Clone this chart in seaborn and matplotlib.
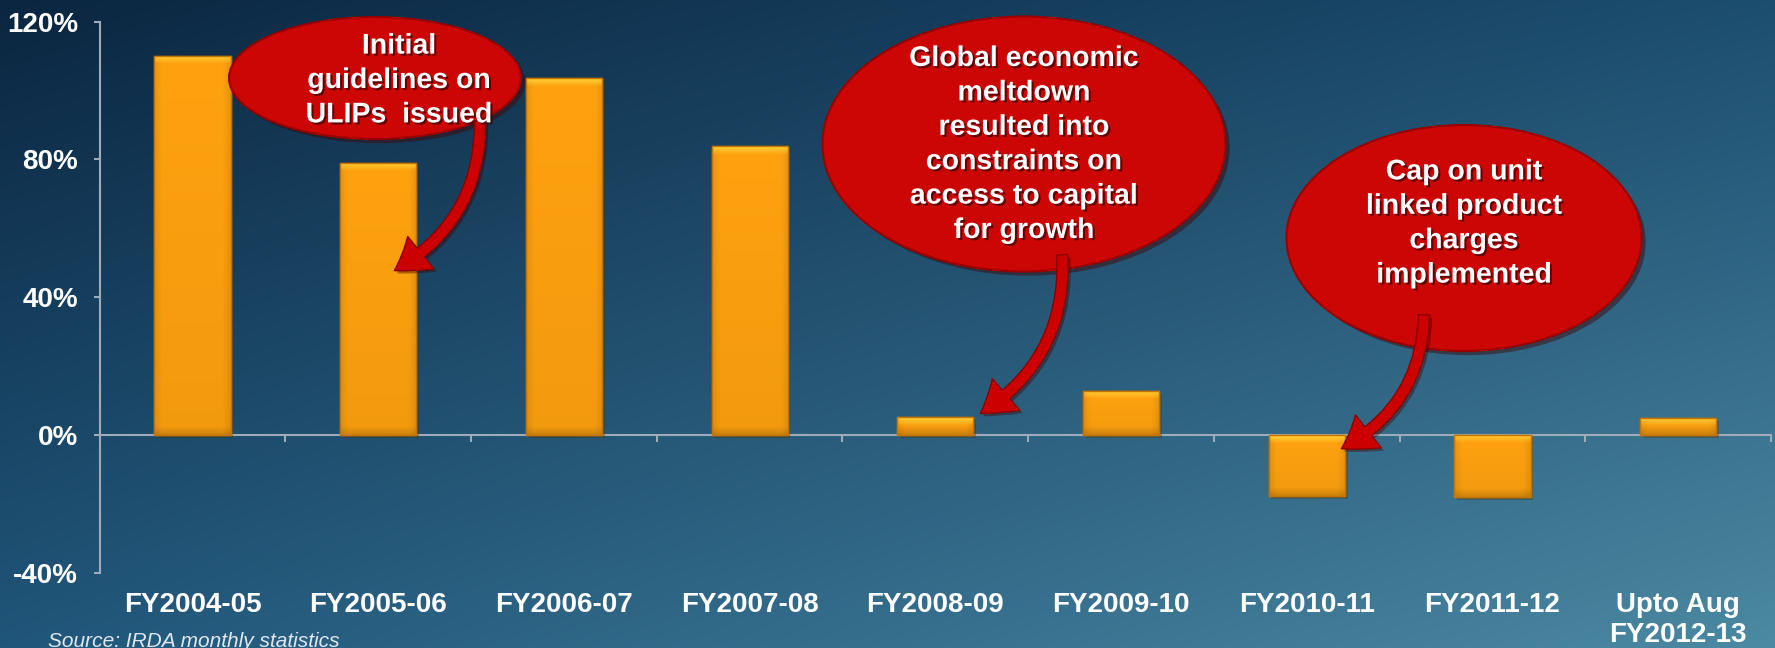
import numpy as np
import pandas as pd
import matplotlib
matplotlib.use("Agg")
import matplotlib.pyplot as plt
import seaborn as sns
from matplotlib.patches import Ellipse, FancyArrowPatch
import matplotlib.patheffects as pe

# ---------------- data ----------------
categories = ["FY2004-05", "FY2005-06", "FY2006-07", "FY2007-08", "FY2008-09",
              "FY2009-10", "FY2010-11", "FY2011-12", "Upto Aug\nFY2012-13"]
growth = [110.0, 79.0, 103.5, 83.8, 5.2, 12.8, -17.6, -18.0, 5.0]
y_ticks = [-40, 0, 40, 80, 120]
y_tick_labels = ["-40%", "0%", "40%", "80%", "120%"]
callout_texts = [
    "Initial\nguidelines on\nULIPs  issued",
    "Global economic\nmeltdown\nresulted into\nconstraints on\naccess to capital\nfor growth",
    "Cap on unit\nlinked product\ncharges\nimplemented",
]
source_text = "Source: IRDA monthly statistics"

# ---------------- style ----------------
sns.set_theme(style="white")
plt.rcParams["font.family"] = ["Liberation Sans", "DejaVu Sans"]

W, H = 1775, 648
fig = plt.figure(figsize=(W / 100, H / 100), dpi=100)

# background gradient
bg = fig.add_axes([0, 0, 1, 1], zorder=0)
tl = np.array([11, 38, 64]) / 255
tr = np.array([28, 78, 112]) / 255
bl = np.array([32, 86, 122]) / 255
br = np.array([76, 137, 162]) / 255
gy, gx = np.mgrid[0:1:200j, 0:1:400j]
img = ((1 - gx)[..., None] * (1 - gy)[..., None] * tl + gx[..., None] * (1 - gy)[..., None] * tr
       + (1 - gx)[..., None] * gy[..., None] * bl + gx[..., None] * gy[..., None] * br)
bg.imshow(img, extent=[0, 1, 1, 0], aspect="auto", interpolation="bilinear")
bg.set_xlim(0, 1); bg.set_ylim(1, 0)
bg.axis("off")

# main axes
ax = fig.add_axes([99.6 / W, 1 - 573 / H, (1771 - 99.6) / W, (573 - 21.5) / H], zorder=1)
ax.patch.set_alpha(0)
df = pd.DataFrame({"cat": categories, "val": growth})
sns.barplot(data=df, x="cat", y="val", ax=ax, color="#ffa20f", width=0.41,
            edgecolor="#c87400", linewidth=1.0, saturation=1)
ax.set_xlim(-0.5, len(categories) - 0.5)
ax.set_ylim(-40, 120)
ax.set_yticks(y_ticks)
ax.set_yticklabels(y_tick_labels)
ax.set_xlabel("")
ax.set_ylabel("")

spine_col = "#9eabb8"
for s in ["top", "right", "bottom"]:
    ax.spines[s].set_visible(False)
ax.spines["left"].set_color(spine_col)
ax.spines["left"].set_linewidth(1.5)
ax.tick_params(axis="y", which="major", direction="out", length=4.5, width=1.5,
               color=spine_col, labelsize=20, labelcolor="white", pad=11, left=True)
ax.tick_params(axis="x", which="major", length=0, labelsize=20, labelcolor="white", pad=14)
for lab in ax.get_xticklabels() + ax.get_yticklabels():
    lab.set_fontweight("bold")

# zero line with boundary ticks
sec = ax.secondary_xaxis(0.25)
sec.set_xticks(np.arange(0.5, len(categories), 1.0))
sec.set_xticklabels([])
sec.spines["bottom"].set_color(spine_col)
sec.spines["bottom"].set_linewidth(1.5)
sec.tick_params(axis="x", direction="out", length=5, width=1.5, color=spine_col, bottom=True)

# bevelled gradient on bars
fig.canvas.draw()
def bevel_image(wpx, hpx):
    wpx, hpx = max(int(wpx), 4), max(int(hpx), 4)
    base = np.array([1.0, 0.635, 0.06])
    imgb = np.ones((hpx, wpx, 3)) * base
    xs = np.arange(wpx)
    ys = np.arange(hpx)
    b = 8
    side = np.clip(1 - np.minimum(xs, wpx - 1 - xs) / b, 0, 1)
    imgb = imgb * (1 - 0.08 * side[None, :, None])
    bot = np.clip(1 - (hpx - 1 - ys) / b, 0, 1)
    imgb = imgb * (1 - 0.15 * bot[:, None, None])
    top = np.clip(1 - ys / b, 0, 1)
    hl = np.array([1.0, 0.82, 0.22])
    imgb = imgb * (1 - top[:, None, None]) + hl * top[:, None, None]
    shade = np.linspace(1.0, 0.95, hpx)
    imgb = imgb * shade[:, None, None]
    return np.clip(imgb, 0, 1)

for p in list(ax.patches):
    x0, y0 = p.get_x(), p.get_y()
    w, h = p.get_width(), p.get_height()
    ylo, yhi = min(y0, y0 + h), max(y0, y0 + h)
    (px0, py0), (px1, py1) = ax.transData.transform([(x0, ylo), (x0 + w, yhi)])
    im = ax.imshow(bevel_image(px1 - px0, py1 - py0), extent=[x0, x0 + w, ylo, yhi],
                   aspect="auto", zorder=p.get_zorder() + 0.1, interpolation="bilinear")
    im.set_clip_path(p)
    p.set_path_effects([pe.SimplePatchShadow(offset=(2, -2), alpha=0.35), pe.Normal()])
    edge = matplotlib.patches.Rectangle((x0, ylo), w, yhi - ylo, fill=False,
                                        edgecolor="#c47200", linewidth=1.0,
                                        zorder=p.get_zorder() + 0.2)
    ax.add_patch(edge)
ax.set_xlim(-0.5, len(categories) - 0.5)
ax.set_ylim(-40, 120)

# callouts overlay (pixel coordinates)
ov = fig.add_axes([0, 0, 1, 1], zorder=3)
ov.set_xlim(0, W); ov.set_ylim(H, 0)
ov.axis("off")
ov.patch.set_alpha(0)

ellipses = [((375, 78), 292, 122), ((1024, 144), 403, 255), ((1464, 238), 355, 226)]
arrows = [((480, 118), (392, 272)), ((1062, 252), (978, 415)), ((1424, 312), (1339, 450))]
text_pos = [(399, 81), (1024, 145), (1464, 224)]

for (c, ew, eh), (a0, a1), tp, txt in zip(ellipses, arrows, text_pos, callout_texts):
    e = Ellipse(c, ew, eh, facecolor="#cc0505", edgecolor="#9a0000", linewidth=1.5, zorder=2)
    e.set_path_effects([pe.SimplePatchShadow(offset=(3, -3), alpha=0.45), pe.Normal()])
    ov.add_patch(e)
    arr = FancyArrowPatch(a0, a1, connectionstyle="arc3,rad=-0.3",
                          arrowstyle="simple,head_length=23,head_width=30,tail_width=8",
                          mutation_scale=1, facecolor="#cc0000", edgecolor="#8a0000",
                          linewidth=1.0, zorder=3)
    arr.set_path_effects([pe.SimplePatchShadow(offset=(2, -2), alpha=0.4), pe.Normal()])
    ov.add_patch(arr)
    ov.text(tp[0], tp[1], txt, ha="center", va="center", color="white", fontsize=20.5,
            fontweight="bold", linespacing=1.42, zorder=4,
            path_effects=[pe.withSimplePatchShadow(offset=(1.5, -1.5), shadow_rgbFace="#3a0000", alpha=0.7)])

fig.text(48 / W, 1 - 647 / H, source_text, ha="left", va="baseline", fontsize=15,
         fontstyle="italic", color="#dfe8f0")

fig.savefig("out.png", dpi=100)
